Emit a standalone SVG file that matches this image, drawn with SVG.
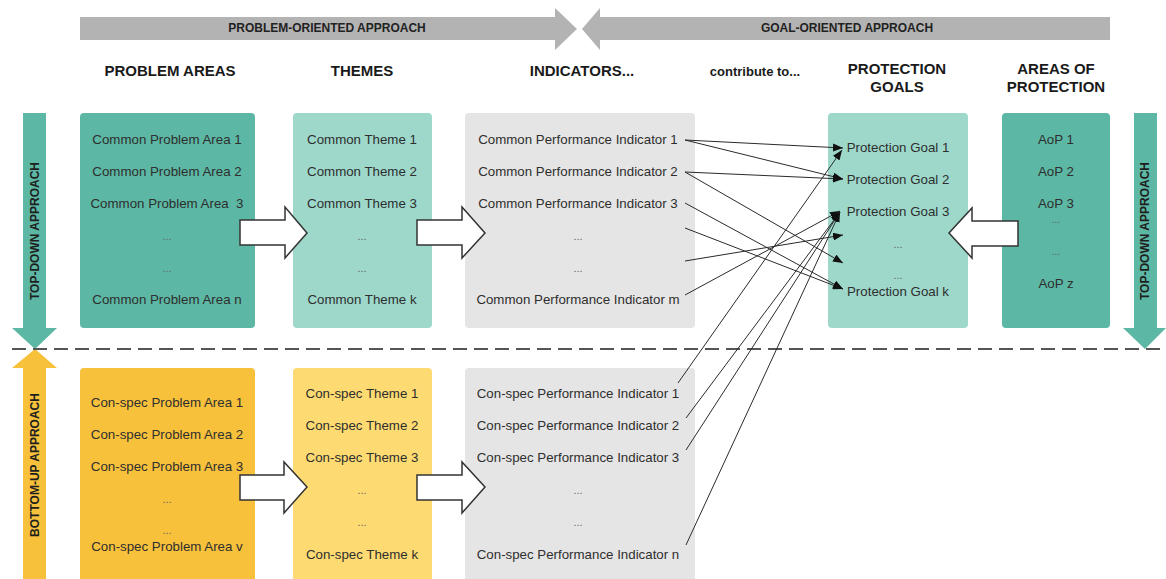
<svg xmlns="http://www.w3.org/2000/svg" width="1166" height="579" viewBox="0 0 1166 579">
  <style>
    .item { font-family: "Liberation Sans", Arial, sans-serif; font-size: 13.3px; fill: #2e2e2e; text-anchor: middle; white-space: pre; }
    .dots { font-family: "Liberation Sans", Arial, sans-serif; font-size: 11px; fill: #666; text-anchor: middle; }
    .head { font-family: "Liberation Sans", Arial, sans-serif; font-size: 15px; font-weight: bold; fill: #1a1a1a; text-anchor: middle; }
    .small { font-family: "Liberation Sans", Arial, sans-serif; font-size: 13px; font-weight: bold; fill: #1a1a1a; text-anchor: middle; }
    .band { font-family: "Liberation Sans", Arial, sans-serif; font-size: 12px; font-weight: bold; fill: #222; text-anchor: middle; }
    .side { font-family: "Liberation Sans", Arial, sans-serif; font-size: 12px; font-weight: bold; fill: #1e1e1e; text-anchor: middle; }
    .block { fill: #ffffff; stroke: #333; stroke-width: 1.5; stroke-linejoin: miter; }
    .link { stroke: #2b2b2b; stroke-width: 1; fill: none; marker-end: url(#tip); }
    .teal { fill: #5cb8a4; }
    .lteal { fill: #9dd8cb; }
    .amber { fill: #f8c13b; }
    .lyellow { fill: #fddb72; }
    .grey { fill: #e5e5e5; }
  </style>
  <defs>
    <marker id="tip" viewBox="0 0 10 8" refX="10" refY="4" markerWidth="10" markerHeight="8" markerUnits="userSpaceOnUse" orient="auto">
      <path d="M0,0 L10,4 L0,8 Z" fill="#111"/>
    </marker>
  </defs>

  <!-- top banner arrows -->
  <g id="problem-oriented">
    <polygon points="80,17 555,17 555,8 577,29 555,50 555,40 80,40" fill="#b3b3b3"/>
    <text class="band" x="327" y="32">PROBLEM-ORIENTED APPROACH</text>
  </g>
  <g id="goal-oriented">
    <polygon points="582,29 600,8 600,17 1110,17 1110,40 600,40 600,50" fill="#b3b3b3"/>
    <text class="band" x="847" y="32">GOAL-ORIENTED APPROACH</text>
  </g>

  <!-- column headings -->
  <g id="headings">
    <text class="head" x="170" y="76">PROBLEM AREAS</text>
    <text class="head" x="362" y="76">THEMES</text>
    <text class="head" x="582" y="76">INDICATORS...</text>
    <text class="small" x="755" y="76">contribute to...</text>
    <text class="head" x="897" y="74">PROTECTION</text>
    <text class="head" x="897" y="92">GOALS</text>
    <text class="head" x="1056" y="74">AREAS OF</text>
    <text class="head" x="1056" y="92">PROTECTION</text>
  </g>

  <!-- side arrows -->
  <g id="top-down-left">
    <polygon class="teal" points="23,113 46,113 46,328 57,328 35,349 12,328 23,328"/>
    <text class="side" transform="translate(39,231) rotate(-90)">TOP-DOWN APPROACH</text>
  </g>
  <g id="bottom-up-left">
    <polygon class="amber" points="35,349 57,368 46,368 46,579 23,579 23,368 12,368"/>
    <text class="side" transform="translate(39,465) rotate(-90)">BOTTOM-UP APPROACH</text>
  </g>
  <g id="top-down-right">
    <polygon class="teal" points="1134,113 1157,113 1157,328 1166,328 1145,349 1123,328 1134,328"/>
    <text class="side" transform="translate(1149,231) rotate(-90)">TOP-DOWN APPROACH</text>
  </g>

  <!-- divider between common and context-specific rows -->
  <line id="divider" x1="12" y1="349" x2="1166" y2="349" stroke="#555" stroke-width="2" stroke-dasharray="14 7"/>

  <!-- common row -->
  <g id="common-problem-areas">
    <rect class="teal" x="80" y="113" width="175" height="215" rx="4"/>
    <text class="item" x="167" y="144">Common Problem Area 1</text>
    <text class="item" x="167" y="176">Common Problem Area 2</text>
    <text class="item" x="167" y="208">Common Problem Area  3</text>
    <text class="dots" x="167" y="240">...</text>
    <text class="dots" x="167" y="272">...</text>
    <text class="item" x="167" y="304">Common Problem Area n</text>
  </g>
  <g id="common-themes">
    <rect class="lteal" x="293" y="113" width="139" height="215" rx="4"/>
    <text class="item" x="362" y="144">Common Theme 1</text>
    <text class="item" x="362" y="176">Common Theme 2</text>
    <text class="item" x="362" y="208">Common Theme 3</text>
    <text class="dots" x="362" y="240">...</text>
    <text class="dots" x="362" y="272">...</text>
    <text class="item" x="362" y="304">Common Theme k</text>
  </g>
  <g id="common-indicators">
    <rect class="grey" x="465" y="113" width="230" height="215" rx="4"/>
    <text class="item" x="578" y="144">Common Performance Indicator 1</text>
    <text class="item" x="578" y="176">Common Performance Indicator 2</text>
    <text class="item" x="578" y="208">Common Performance Indicator 3</text>
    <text class="dots" x="578" y="240">...</text>
    <text class="dots" x="578" y="272">...</text>
    <text class="item" x="578" y="304">Common Performance Indicator m</text>
  </g>
  <g id="protection-goals">
    <rect class="lteal" x="828" y="113" width="140" height="215" rx="4"/>
    <text class="item" x="898" y="152">Protection Goal 1</text>
    <text class="item" x="898" y="184">Protection Goal 2</text>
    <text class="item" x="898" y="216">Protection Goal 3</text>
    <text class="dots" x="898" y="248">...</text>
    <text class="dots" x="898" y="279">...</text>
    <text class="item" x="898" y="296">Protection Goal k</text>
  </g>
  <g id="areas-of-protection">
    <rect class="teal" x="1002" y="113" width="108" height="215" rx="4"/>
    <text class="item" x="1056" y="144">AoP 1</text>
    <text class="item" x="1056" y="176">AoP 2</text>
    <text class="item" x="1056" y="208">AoP 3</text>
    <text class="dots" x="1056" y="223">...</text>
    <text class="dots" x="1056" y="255">...</text>
    <text class="item" x="1056" y="288">AoP z</text>
  </g>

  <!-- context-specific row -->
  <g id="conspec-problem-areas">
    <rect class="amber" x="80" y="368" width="175" height="215" rx="4"/>
    <text class="item" x="167" y="407">Con-spec Problem Area 1</text>
    <text class="item" x="167" y="439">Con-spec Problem Area 2</text>
    <text class="item" x="167" y="471">Con-spec Problem Area 3</text>
    <text class="dots" x="167" y="503">...</text>
    <text class="dots" x="167" y="534">...</text>
    <text class="item" x="167" y="551">Con-spec Problem Area v</text>
  </g>
  <g id="conspec-themes">
    <rect class="lyellow" x="293" y="368" width="139" height="215" rx="4"/>
    <text class="item" x="362" y="398">Con-spec Theme 1</text>
    <text class="item" x="362" y="430">Con-spec Theme 2</text>
    <text class="item" x="362" y="462">Con-spec Theme 3</text>
    <text class="dots" x="362" y="494">...</text>
    <text class="dots" x="362" y="526">...</text>
    <text class="item" x="362" y="559">Con-spec Theme k</text>
  </g>
  <g id="conspec-indicators">
    <rect class="grey" x="465" y="368" width="230" height="215" rx="4"/>
    <text class="item" x="578" y="398">Con-spec Performance Indicator 1</text>
    <text class="item" x="578" y="430">Con-spec Performance Indicator 2</text>
    <text class="item" x="578" y="462">Con-spec Performance Indicator 3</text>
    <text class="dots" x="578" y="494">...</text>
    <text class="dots" x="578" y="526">...</text>
    <text class="item" x="578" y="559">Con-spec Performance Indicator n</text>
  </g>

  <!-- block arrows between columns -->
  <g id="block-arrows">
    <polygon class="block" points="240,220 285,220 285,207 307,233 285,258 285,245 240,245"/>
    <polygon class="block" points="417,220 462,220 462,207 485,233 462,258 462,245 417,245"/>
    <polygon class="block" points="240,475 284,475 284,462 307,487 284,513 284,500 240,500"/>
    <polygon class="block" points="417,475 462,475 462,462 485,487 462,513 462,500 417,500"/>
    <polygon class="block" points="1018,221 972,221 972,208 949,233 972,258 972,246 1018,246"/>
  </g>

  <!-- indicators contribute to protection goals -->
  <g id="connectors">
    <line class="link" x1="685" y1="140" x2="843" y2="148"/>
    <line class="link" x1="685" y1="140" x2="843" y2="179"/>
    <line class="link" x1="685" y1="172" x2="843" y2="179"/>
    <line class="link" x1="685" y1="172" x2="843" y2="263"/>
    <line class="link" x1="685" y1="203" x2="843" y2="289"/>
    <line class="link" x1="685" y1="228" x2="843" y2="289"/>
    <line class="link" x1="685" y1="261" x2="843" y2="235"/>
    <line class="link" x1="685" y1="295" x2="840" y2="211"/>
    <line class="link" x1="678" y1="383" x2="842" y2="150"/>
    <line class="link" x1="686" y1="418" x2="840" y2="212"/>
    <line class="link" x1="686" y1="450" x2="840" y2="212"/>
    <line class="link" x1="686" y1="545" x2="840" y2="212"/>
  </g>
</svg>
